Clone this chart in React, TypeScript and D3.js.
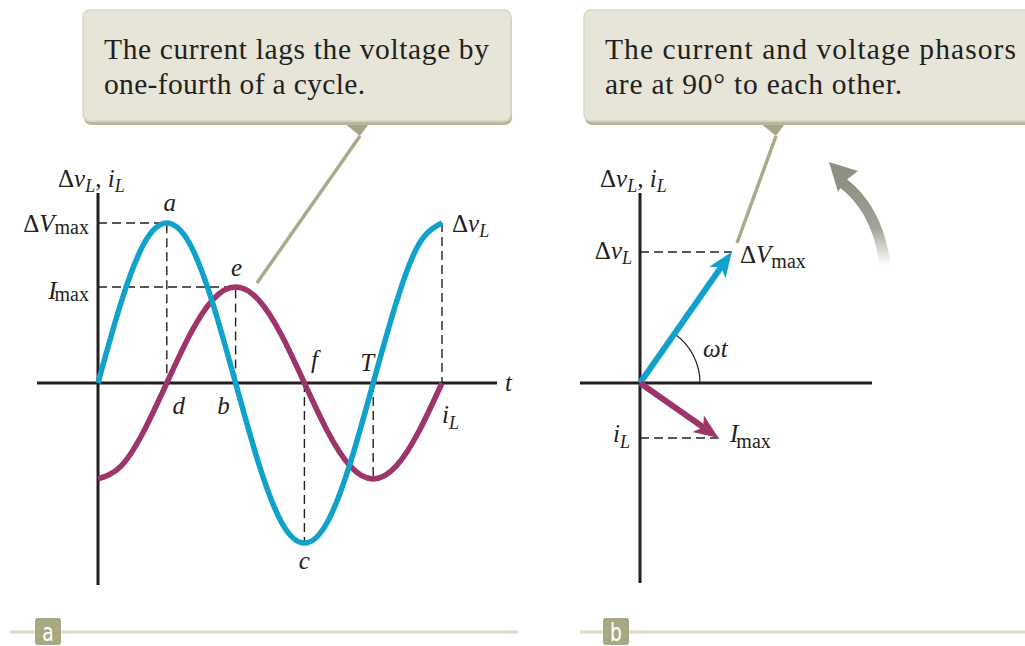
import React from "react";
import * as d3 from "d3";

// Phase angle (degrees of ωt) at which the two traces are sampled.
const phaseDeg = [0, 30, 60, 90, 120, 150, 180, 210, 240, 270, 300, 330, 360, 390, 420, 450];
// Inductor voltage Δv_L, in units of ΔV_max.
const voltage = [0, 0.5, 0.87, 1, 0.87, 0.5, 0, -0.5, -0.87, -1, -0.87, -0.5, 0, 0.5, 0.87, 1];
// Inductor current i_L, on the same vertical scale (I_max ≈ 0.6).
const current = [-0.6, -0.52, -0.3, 0, 0.3, 0.52, 0.6, 0.52, 0.3, 0, -0.3, -0.52, -0.6, -0.52, -0.3, 0];

const V_MAX = 1;
const I_MAX = 0.6;

// Labelled instants on the time axis: [label, phase, value]
const pointLabels: [string, number, number][] = [
  ["a", 90, 1],
  ["e", 180, 0.6],
  ["f", 270, 0],
  ["T", 360, 0],
  ["d", 90, 0],
  ["b", 180, 0],
  ["c", 270, -1],
];

// Phasor diagram: instantaneous angle ωt (degrees) and magnitudes.
const phasorAngle = 55;
const phasors = [
  { name: "voltage", magnitude: V_MAX, offset: 0 },
  { name: "current", magnitude: I_MAX, offset: -90 },
];

const calloutA = ["The current lags the voltage by", "one-fourth of a cycle."];
const calloutB = ["The current and voltage phasors", "are at 90° to each other."];

const BLUE = "#10a2cb";
const PURPLE = "#9d356b";
const INK = "#231f20";
const SERIF = "'Liberation Serif', 'Times New Roman', serif";

function Callout({ x, y, w, h, lines, tip, lineTo, lengths }: any) {
  const [tx, ty] = tip;
  return (
    <g>
      <line x1={tx} y1={ty} x2={lineTo[0]} y2={lineTo[1]} stroke="#abaa8c" strokeWidth={3.5} />
      <path d={`M${tx - 17},${y + h} L${tx + 10},${y + h} L${tx},${ty} Z`} fill="#a6a585" />
      <rect x={x + 1} y={y + 3} width={w} height={h} rx={7} fill="#b9b89f" />
      <rect x={x} y={y} width={w} height={h - 1} rx={7} fill="#e6e5d8" stroke="#d8d7c6" strokeWidth={1.5} />
      {lines.map((l: string, i: number) => (
        <text
          key={i}
          x={x + 21}
          y={y + 49 + i * 35}
          fontFamily={SERIF}
          fontSize={29.5}
          fill={INK}
          textLength={lengths[i]}
          lengthAdjust="spacing"
        >
          {l}
        </text>
      ))}
    </g>
  );
}

function PanelTag({ x, y, x1, x2, label }: any) {
  const cx = x + 13;
  return (
    <g>
      <line x1={x1} y1={y} x2={x2} y2={y} stroke="#dddcc9" strokeWidth={3} />
      <rect x={x} y={y - 14} width={26} height={27} rx={3} fill="#a9a884" />
      <text
        x={cx}
        y={y + 9}
        textAnchor="middle"
        fontFamily="'DejaVu Sans', 'Liberation Sans', sans-serif"
        fontSize={24}
        fill="#ffffff"
        transform={`translate(${cx},0) scale(0.78,1) translate(${-cx},0)`}
      >
        {label}
      </text>
    </g>
  );
}

export default function App() {
  // Panel (a): time traces
  const x = d3.scaleLinear().domain([0, 450]).range([98, 442]);
  const y = d3.scaleLinear().domain([-1, 1]).range([543, 223]);
  const y0 = y(0);
  const x0 = x(0);

  const lineGen = (vals: number[]) =>
    d3
      .line<number>()
      .x((_, i) => x(phaseDeg[i]))
      .y((v) => y(v))
      .curve(d3.curveNatural)(vals) as string;

  // Panel (b): phasors
  const ox = 640;
  const oy = 383;
  const r = d3.scaleLinear().domain([0, 1]).range([0, 160]);
  const tips = phasors.map((p) => {
    const ang = ((phasorAngle + p.offset) * Math.PI) / 180;
    return { ...p, x: ox + r(p.magnitude) * Math.cos(ang), y: oy - r(p.magnitude) * Math.sin(ang) };
  });
  const [vTip, iTip] = tips;
  const arcR = 60;
  const arcPath = d3.arc()({
    innerRadius: arcR,
    outerRadius: arcR,
    startAngle: Math.PI / 2 - (phasorAngle * Math.PI) / 180,
    endAngle: Math.PI / 2,
  } as any) as string;

  const arrowHead = (tx: number, ty: number, color: string, len = 25, half = 10) => {
    const ang = Math.atan2(ty - oy, tx - ox);
    const bx = tx - len * Math.cos(ang);
    const by = ty - len * Math.sin(ang);
    const px = -Math.sin(ang) * half;
    const py = Math.cos(ang) * half;
    return {
      head: (
        <path
          d={`M${tx},${ty} L${bx + px},${by + py} L${bx + len * 0.25 * Math.cos(ang)},${by + len * 0.25 * Math.sin(ang)} L${bx - px},${by - py} Z`}
          fill={color}
        />
      ),
      shaftEnd: [bx + len * 0.3 * Math.cos(ang), by + len * 0.3 * Math.sin(ang)],
    };
  };
  const vArrow = arrowHead(vTip.x, vTip.y, BLUE);
  const iArrow = arrowHead(iTip.x, iTip.y, PURPLE);

  const italic = { fontFamily: SERIF, fontStyle: "italic" as const, fill: INK };
  const roman = { fontFamily: SERIF, fill: INK };

  const DVmax = (px: number, py: number, anchor: "start" | "end", subDy = 2) => (
    <text x={px} y={py} textAnchor={anchor} {...roman} fontSize={25}>
      <tspan>Δ</tspan>
      <tspan fontStyle="italic">V</tspan>
      <tspan fontSize={20} dy={subDy}>max</tspan>
    </text>
  );
  const Imax = (px: number, py: number, anchor: "start" | "end", subDy = 2) => (
    <text x={px} y={py} textAnchor={anchor} {...roman} fontSize={25}>
      <tspan fontStyle="italic">I</tspan>
      <tspan fontSize={20} dy={subDy} dx={-2}>max</tspan>
    </text>
  );
  const DvL = (px: number, py: number, anchor: "start" | "end") => (
    <text x={px} y={py} textAnchor={anchor} {...roman} fontSize={25}>
      <tspan>Δ</tspan>
      <tspan fontStyle="italic">v</tspan>
      <tspan fontStyle="italic" fontSize={18} dy={5}>L</tspan>
    </text>
  );
  const iL = (px: number, py: number, anchor: "start" | "end") => (
    <text x={px} y={py} textAnchor={anchor} {...roman} fontSize={25}>
      <tspan fontStyle="italic">i</tspan>
      <tspan fontStyle="italic" fontSize={18} dy={6}>L</tspan>
    </text>
  );
  const axisTitle = (px: number, py: number) => (
    <text x={px} y={py} {...roman} fontSize={25}>
      <tspan>Δ</tspan>
      <tspan fontStyle="italic">v</tspan>
      <tspan fontStyle="italic" fontSize={18} dy={5}>L</tspan>
      <tspan dy={-5}>, </tspan>
      <tspan fontStyle="italic">i</tspan>
      <tspan fontStyle="italic" fontSize={18} dy={5}>L</tspan>
    </text>
  );

  const dash = { stroke: INK, strokeWidth: 1.4, strokeDasharray: "9,5", fill: "none" };

  const labelOffsets: Record<string, [number, number]> = {
    a: [3, -12],
    e: [1, -11],
    f: [10, -15],
    T: [-6, -12],
    d: [12, 31],
    b: [-12, 31],
    c: [0, 26],
  };

  return (
    <svg width={1025} height={646} style={{ position: "absolute", left: 0, top: 0, background: "#fff" }}>
      <defs>
        <linearGradient id="spin" x1="0" y1="0" x2="0" y2="1" gradientUnits="objectBoundingBox">
          <stop offset="0" stopColor="#8f9084" />
          <stop offset="0.55" stopColor="#a2a397" />
          <stop offset="1" stopColor="#ffffff" />
        </linearGradient>
      </defs>

      {/* Panel (a) */}
      <Callout x={83} y={10} w={428} h={112} lines={calloutA} lengths={[385, 261]} tip={[360, 136]} lineTo={[257, 283]} />

      {/* guide lines */}
      <path d={`M${x0},${y(V_MAX)} H${x(90)} V${y0}`} {...dash} />
      <path d={`M${x0},${y(I_MAX)} H${x(180)} V${y0}`} {...dash} />
      <path d={`M${x(270)},${y0} V${y(-V_MAX)}`} {...dash} />
      <path d={`M${x(360)},${y0} V${y(-I_MAX)}`} {...dash} />
      <path d={`M${x(450)},${y(V_MAX)} V${y0}`} {...dash} />

      {/* axes */}
      <line x1={x0} y1={193} x2={x0} y2={585} stroke={INK} strokeWidth={3} />
      <line x1={37} y1={y0} x2={497} y2={y0} stroke={INK} strokeWidth={3} />

      {/* traces */}
      <path d={lineGen(current)} fill="none" stroke={PURPLE} strokeWidth={5.5} />
      <path d={lineGen(voltage)} fill="none" stroke={BLUE} strokeWidth={5.5} />

      {axisTitle(58, 187)}
      {DVmax(89, 232, "end")}
      {Imax(89, 299, "end")}
      {DvL(452, 232, "start")}
      {iL(442, 423, "start")}
      <text x={505} y={391} {...italic} fontSize={25}>t</text>

      {pointLabels.map(([lab, ph, v]) => {
        const [dx, dy] = labelOffsets[lab];
        return (
          <text key={lab} x={x(ph) + dx} y={y(v) + dy} textAnchor="middle" {...italic} fontSize={25}>
            {lab}
          </text>
        );
      })}

      <PanelTag x={35} y={632} x1={10} x2={518} label="a" />

      {/* Panel (b) */}
      <Callout x={584} y={10} w={460} h={112} lines={calloutB} lengths={[411, 297]} tip={[776, 136]} lineTo={[737, 243]} />

      {/* rotation arrow */}
      <path d="M843,183 Q878,210 885,265" fill="none" stroke="url(#spin)" strokeWidth={11} />
      <path d="M829,162 L838,192 L845,181 L858,171 Z" fill="#8f9084" />

      <path d={`M${ox},${vTip.y} H${vTip.x}`} {...dash} />
      <path d={`M${ox},${iTip.y} H${iTip.x}`} {...dash} />

      <line x1={ox} y1={193} x2={ox} y2={583} stroke={INK} strokeWidth={3} />
      <line x1={580} y1={oy} x2={872} y2={oy} stroke={INK} strokeWidth={3} />

      <path d={arcPath} transform={`translate(${ox},${oy})`} fill="none" stroke={INK} strokeWidth={1.2} />
      <text x={703} y={357} {...italic} fontSize={25}>ωt</text>

      <line x1={ox} y1={oy} x2={vArrow.shaftEnd[0]} y2={vArrow.shaftEnd[1]} stroke={BLUE} strokeWidth={6} />
      {vArrow.head}
      <line x1={ox} y1={oy} x2={iArrow.shaftEnd[0]} y2={iArrow.shaftEnd[1]} stroke={PURPLE} strokeWidth={6} />
      {iArrow.head}

      {axisTitle(600, 187)}
      {DvL(632, 259, "end")}
      {DVmax(740, 263, "start", 5)}
      {iL(630, 442, "end")}
      {Imax(730, 442, "start", 6)}

      <PanelTag x={603} y={632} x1={580} x2={1025} label="b" />
    </svg>
  );
}
